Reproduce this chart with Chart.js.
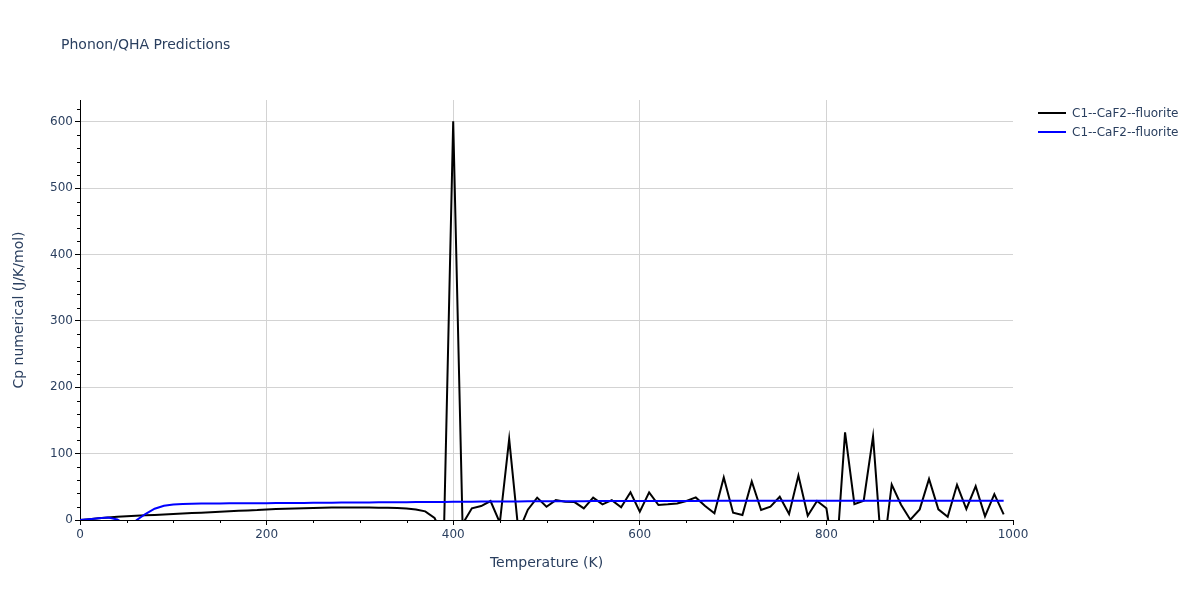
<!DOCTYPE html>
<html>
<head>
<meta charset="utf-8">
<script src="https://cdn.jsdelivr.net/npm/chart.js@4/dist/chart.umd.min.js"></script>
<style>
    body { margin: 0; background: #fff; font-family: 'DejaVu Sans', sans-serif; }
    #wrap { position: relative; width: 1200px; height: 600px; }
    #title { position: absolute; left: 61px; top: 36px; font-size: 14px; color: #2a3f5f; }
    .legend-item { position: absolute; left: 1038px; font-size: 12px; color: #2a3f5f; display: flex; align-items: center; }
    .legend-item .swatch { width: 28px; height: 2px; margin-right: 6px; }
</style>
</head>
<body>
<div id="wrap">
    <canvas id="cpChart" width="1200" height="600"></canvas>
    <div id="title">Phonon/QHA Predictions</div>
    <div id="legend"></div>
</div>
<script>
// temperatures (K)
const temps = [0, 10, 20, 30, 40, 50, 60, 70, 80, 90, 100, 110, 120, 130, 140, 150, 160, 170, 180, 190,
    200, 210, 220, 230, 240, 250, 260, 270, 280, 290, 300, 310, 320, 330, 340, 350, 360, 370, 380, 390,
    400, 410, 420, 430, 440, 450, 460, 470, 480, 490, 500, 510, 520, 530, 540, 550, 560, 570, 580, 590,
    600, 610, 620, 630, 640, 650, 660, 670, 680, 690, 700, 710, 720, 730, 740, 750, 760, 770, 780, 790,
    800, 810, 820, 830, 840, 850, 860, 870, 880, 890, 900, 910, 920, 930, 940, 950, 960, 970, 980, 990];

// black trace: Cp numerical
const cpNumerical = [0, 1.2, 2.5, 3.8, 4.8, 5.6, 6.3, 7.0, 7.7, 8.4, 9.1, 9.8, 10.5, 11.1, 11.8, 12.4, 13.1, 13.8, 14.4, 15.0,
    16.0, 16.5, 17.0, 17.4, 17.8, 18.1, 18.4, 18.7, 19.0, 19.0, 18.9, 18.7, 18.4, 18.6, 18.0, 17.2, 15.8, 13.0, 3.0, -25,
    601, -6, 17.6, 21, 28.6, -4, 122, -18, 15.6, 33.7, 20, 30, 27.6, 27, 17.6, 33.7, 23.6, 30, 19, 41.7,
    12.6, 41.7, 22.6, 23.6, 25, 28.6, 34, 21, 10, 64, 11, 7.5, 58, 15, 20, 35, 9, 67, 6.5, 28.6,
    17.6, -70, 132, 24, 29, 126, -62, 53.5, 23, 0.5, 16, 62, 16, 5, 53, 16.6, 51, 5.4, 39, 8.5];

// blue trace: Cp from QHA
const cpQha = [0, 1.2, 2.6, 3.6, 0.8, -8, -0.8, 9, 17, 21.5, 23.5, 24.3, 24.6, 24.8, 25.0, 25.0, 25.1, 25.2, 25.2, 25.3,
    25.4, 25.5, 25.6, 25.7, 25.8, 25.9, 26.0, 26.1, 26.2, 26.3, 26.4, 26.5, 26.6, 26.7, 26.8, 26.9, 27.0, 27.1, 27.2, 27.3,
    27.4, 27.5, 27.6, 27.7, 27.8, 27.9, 28.0, 28.0, 28.1, 28.2, 28.2, 28.3, 28.3, 28.4, 28.4, 28.5, 28.5, 28.6, 28.6, 28.6,
    28.7, 28.7, 28.7, 28.8, 28.8, 28.8, 28.8, 28.9, 28.9, 28.9, 28.9, 28.9, 29.0, 29.0, 29.0, 29.0, 29.0, 29.0, 29.0, 29.0,
    29.0, 29.0, 29.0, 29.0, 29.0, 29.0, 29.0, 29.0, 29.0, 29.0, 29.0, 29.0, 29.0, 29.0, 29.0, 29.0, 29.0, 29.0, 29.0, 29.0];

const seriesLabels = ['C1--CaF2--fluorite', 'C1--CaF2--fluorite'];
const seriesColors = ['#000000', '#0000ff'];

const FONT = "'DejaVu Sans', sans-serif";
const TEXT = '#2a3f5f';

// legend (html)
const legendEl = document.getElementById('legend');
seriesLabels.forEach((lbl, i) => {
    const item = document.createElement('div');
    item.className = 'legend-item';
    item.style.top = (106 + i * 19) + 'px';
    item.innerHTML = `<span class="swatch" style="background:${seriesColors[i]}"></span>${lbl}`;
    legendEl.appendChild(item);
});

// minor tick marks like plotly
const minorTicks = {
    id: 'minorTicks',
    afterDraw(chart) {
        const { ctx, scales: { x, y } } = chart;
        ctx.save();
        ctx.strokeStyle = '#000';
        ctx.lineWidth = 1;
        ctx.beginPath();
        for (let v = 50; v < 1000; v += 50) {
            if (v % 200 === 0) continue;
            const px = Math.round(x.getPixelForValue(v)) + 0.5;
            ctx.moveTo(px, y.bottom);
            ctx.lineTo(px, y.bottom + 3);
        }
        for (let v = 20; v <= 620; v += 20) {
            if (v % 100 === 0) continue;
            const py = Math.round(y.getPixelForValue(v)) + 0.5;
            ctx.moveTo(x.left, py);
            ctx.lineTo(x.left - 3, py);
        }
        ctx.stroke();
        ctx.restore();
    }
};

const toPoints = arr => arr.map((v, i) => ({ x: temps[i], y: v }));

new Chart(document.getElementById('cpChart'), {
    type: 'line',
    data: {
        datasets: [
            { label: seriesLabels[1], data: toPoints(cpQha), borderColor: seriesColors[1], borderWidth: 2, pointRadius: 0, tension: 0, order: 0 },
            { label: seriesLabels[0], data: toPoints(cpNumerical), borderColor: seriesColors[0], borderWidth: 2, pointRadius: 0, tension: 0, order: 1 }
        ]
    },
    options: {
        responsive: false,
        animation: false,
        layout: { padding: { top: 100, right: 187, left: 0, bottom: 0 } },
        plugins: { legend: { display: false }, tooltip: { enabled: false } },
        scales: {
            x: {
                type: 'linear',
                min: 0, max: 1000,
                afterFit: s => { s.height = 80; },
                border: { display: true, color: '#000', width: 1 },
                grid: {
                    color: c => (c.tick.value === 0 || c.tick.value === 1000) ? 'rgba(0,0,0,0)' : '#d3d3d3',
                    tickColor: '#000',
                    tickLength: 5
                },
                ticks: { stepSize: 200, padding: 3, color: TEXT, font: { family: FONT, size: 12 }, callback: v => String(v) },
                title: { display: true, text: 'Temperature (K)', color: TEXT, font: { family: FONT, size: 14 }, padding: { top: 0, bottom: 28 } }
            },
            y: {
                min: 0, max: 633,
                afterFit: s => { s.width = 80; },
                border: { display: true, color: '#000', width: 1 },
                grid: {
                    color: c => c.tick.value === 0 ? 'rgba(0,0,0,0)' : '#d3d3d3',
                    tickColor: '#000',
                    tickLength: 5
                },
                ticks: { stepSize: 100, includeBounds: false, padding: 2, color: TEXT, font: { family: FONT, size: 12 } },
                title: { display: true, text: 'Cp numerical (J/K/mol)', color: TEXT, font: { family: FONT, size: 14 }, padding: { top: 11, bottom: 0 } }
            }
        }
    },
    plugins: [minorTicks]
});
</script>
</body>
</html>
